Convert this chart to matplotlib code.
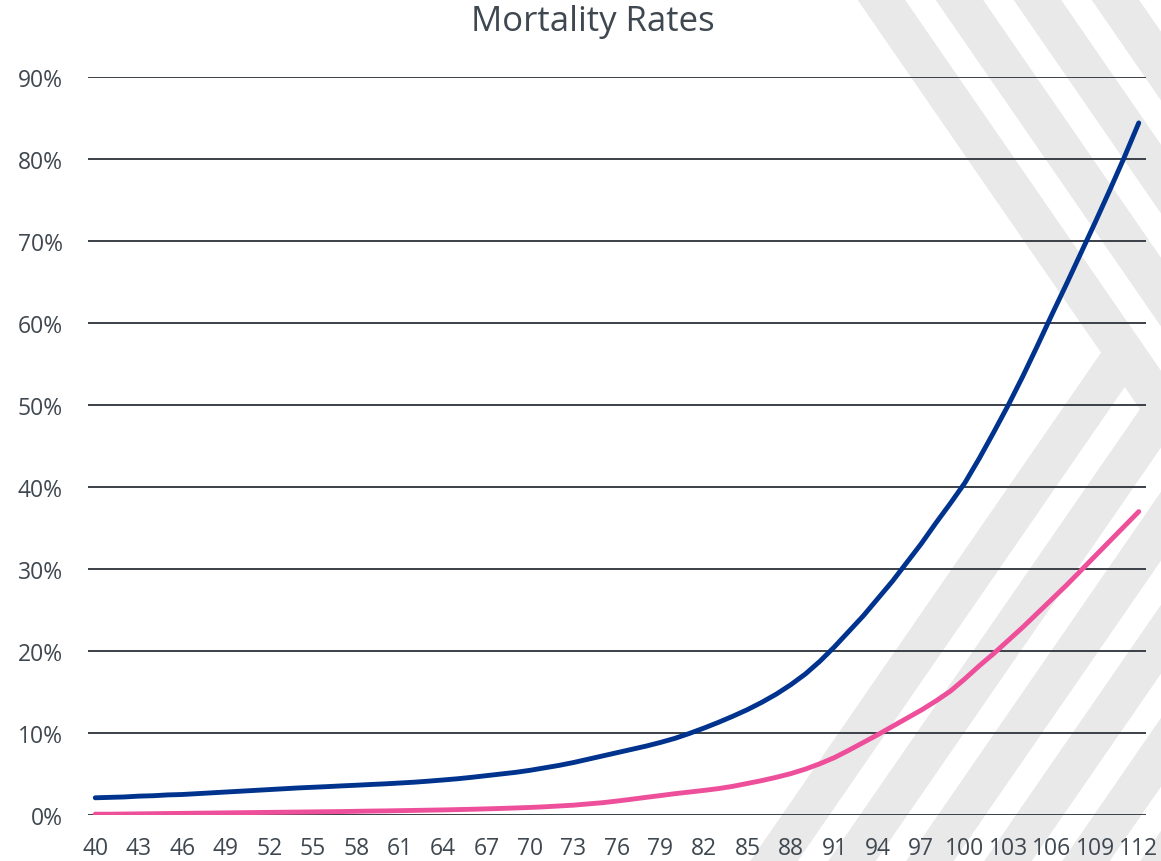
import matplotlib.pyplot as plt
import numpy as np
from matplotlib.patches import Polygon
from matplotlib.ticker import PercentFormatter

plt.rcParams['font.family'] = ['Open Sans', 'DejaVu Sans']

ages = np.arange(40, 113)

# male mortality (%), ages 40..112
male = [2.1, 2.15, 2.2, 2.3, 2.35, 2.45, 2.5, 2.6, 2.7, 2.8,
        2.9, 3.0, 3.1, 3.2, 3.3, 3.38, 3.46, 3.55, 3.63, 3.72,
        3.8, 3.9, 4.0, 4.13, 4.27, 4.42, 4.6, 4.8, 5.0, 5.2,
        5.45, 5.75, 6.05, 6.4, 6.8, 7.2, 7.6, 8.0, 8.4, 8.85,
        9.35, 9.95, 10.6, 11.3, 12.05, 12.85, 13.75, 14.75, 15.9, 17.2,
        18.75, 20.5, 22.4, 24.3, 26.4, 28.5, 30.8, 33.1, 35.6, 38.0,
        40.5, 43.5, 46.7, 50.0, 53.5, 57.2, 61.0, 64.7, 68.5, 72.3,
        76.2, 80.2, 84.4]

# female mortality (%)
female = [0.1, 0.1, 0.12, 0.14, 0.16, 0.18, 0.2, 0.22, 0.24, 0.26,
          0.28, 0.3, 0.32, 0.34, 0.36, 0.38, 0.4, 0.42, 0.45, 0.48,
          0.5, 0.53, 0.56, 0.59, 0.62, 0.66, 0.7, 0.75, 0.8, 0.86,
          0.92, 1.0, 1.1, 1.2, 1.35, 1.5, 1.7, 1.92, 2.15, 2.37,
          2.6, 2.8, 3.0, 3.22, 3.5, 3.85, 4.2, 4.6, 5.05, 5.6,
          6.25, 7.0, 7.9, 8.85, 9.8, 10.8, 11.8, 12.8, 13.9, 15.1,
          16.6, 18.2, 19.7, 21.3, 22.9, 24.6, 26.3, 28.0, 29.8, 31.6,
          33.4, 35.2, 37.0]

title = "Mortality Rates"
blue = "#00338d"
pink = "#ee4f9b"
text_col = "#3f4850"

W, H = 1161, 862
fig = plt.figure(figsize=(W / 100, H / 100), dpi=100)

# decorative chevron stripes in the background (pixel coords, top origin)
s = 0.69
bw = 47.5
apex = 354


def px(pts):
    return [(x / W, 1 - y / H) for x, y in pts]


for k in range(5):
    x0 = 857 + 78 * k
    pts = [(x0, 0), (x0 + bw, 0), (x0 + bw + s * H, H), (x0 + s * H, H)]
    fig.add_artist(Polygon(px(pts), closed=True, transform=fig.transFigure,
                           facecolor="#e9e9e9", edgecolor="none", zorder=-5))
for k in range(6):
    X0 = 1345 + 78 * k
    xa = X0 - s * apex
    xb = X0 - s * H
    pts = [(xa, apex), (xa + bw, apex), (xb + bw, H), (xb, H)]
    fig.add_artist(Polygon(px(pts), closed=True, transform=fig.transFigure,
                           facecolor="#e9e9e9", edgecolor="none", zorder=-5))

ax = fig.add_axes([88 / W, (H - 816) / H, (1146 - 88) / W, (816 - 78) / H])
ax.set_facecolor("none")
ax.set_zorder(1)

ax.plot(ages, np.array(male) / 100, color=blue, lw=3.5, solid_capstyle="round", zorder=3)
ax.plot(ages, np.array(female) / 100, color=pink, lw=3.5, solid_capstyle="round", zorder=3)

ax.set_xlim(39.5, 112.5)
ax.set_ylim(0, 0.9)
ax.set_xticks(ages[::3])
ax.set_yticks(np.arange(0, 0.91, 0.1))
ax.yaxis.set_major_formatter(PercentFormatter(1.0, decimals=0))

ax.grid(axis="y", color="#3a4046", lw=1.4)
ax.axhline(0, color="#d8dbde", lw=1.5, zorder=1)
for sp in ax.spines.values():
    sp.set_visible(False)
ax.tick_params(length=0, labelsize=16.5, labelcolor=text_col)
ax.tick_params(axis="y", pad=18)
ax.tick_params(axis="x", pad=15)

fig.text(593 / W, 1 - 22 / H, title, ha="center", va="center",
         fontsize=25, color=text_col)

fig.savefig("out.png", dpi=100)
